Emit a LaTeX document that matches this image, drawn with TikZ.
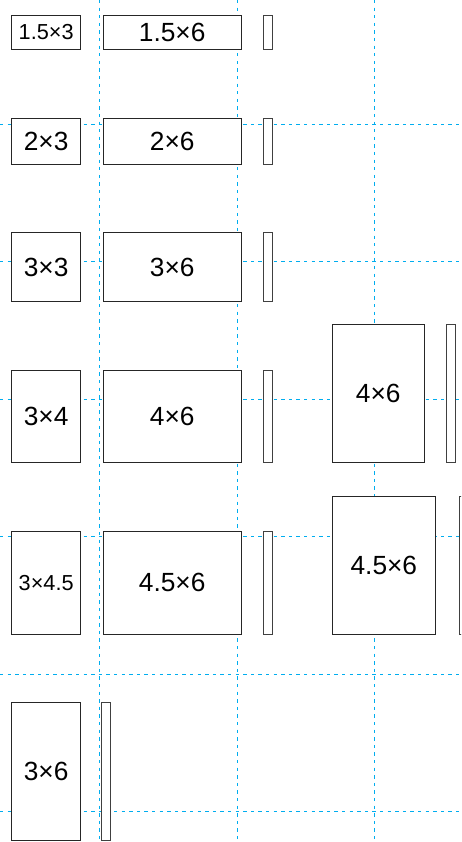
\documentclass[tikz,border=0pt]{standalone}
\usepackage{fontspec}
\setmainfont{Liberation Sans}
\tikzset{
  x=1pt, y=-1pt,
  gridline/.style={draw=cyan, line width=1pt, dash pattern=on 3.3pt off 4.3pt},
  photo/.style={draw=black!85, fill=white, line width=1pt, rectangle, inner sep=0pt, anchor=north west, font=\fontsize{26.3}{31}\selectfont},
  small/.style={font=\fontsize{21.7}{26}\selectfont},
  strip/.style={draw=black!75, fill=white, line width=1pt, rectangle, inner sep=0pt, anchor=north west, minimum width=9pt},
}
\begin{document}
\begin{tikzpicture}
\useasboundingbox (0,0) rectangle (461,842);
\clip (0,0) rectangle (461,842);
% grid
\foreach \gx [count=\i] in {99.5,237,374.5} {
  \coordinate (vt\i) at (\gx,0);
  \coordinate (vb\i) at (\gx,842);
  \draw[gridline] (vt\i) -- (vb\i);
}
\foreach \gy [count=\i] in {124.3,261.8,399.3,536.8,674.3,811.8} {
  \coordinate (hl\i) at (0,\gy);
  \coordinate (hr\i) at (461,\gy);
  \draw[gridline] (hl\i) -- (hr\i);
}
% row 1
\node[photo, small, minimum width=68.7pt, minimum height=34.3pt] (a1) at (11.3,14.7) {1.5×3};
\node[photo, minimum width=138pt, minimum height=34.3pt] (a2) at (102.7,14.7) {1.5×6};
\node[strip, minimum height=34.3pt] (a3) at (263.3,14.7) {};
% row 2
\node[photo, minimum width=68.7pt, minimum height=46pt] (b1) at (11.3,117.7) {2×3};
\node[photo, minimum width=138pt, minimum height=46pt] (b2) at (102.7,117.7) {2×6};
\node[strip, minimum height=46pt] (b3) at (262.7,117.7) {};
% row 3
\node[photo, minimum width=68.7pt, minimum height=68.7pt] (c1) at (11.3,232.3) {3×3};
\node[photo, minimum width=138pt, minimum height=68.7pt] (c2) at (102.7,232.3) {3×6};
\node[strip, minimum height=68.7pt] (c3) at (262.7,232.3) {};
% row 4
\node[photo, minimum width=68.7pt, minimum height=91.5pt] (d1) at (11.3,370) {3×4};
\node[photo, minimum width=138pt, minimum height=91.5pt] (d2) at (102.7,370) {4×6};
\node[strip, minimum height=91.5pt] (d3) at (262.7,370) {};
\node[photo, minimum width=92pt, minimum height=138pt] (d4) at (331.7,323.7) {4×6};
\node[strip, minimum height=138pt] (d5) at (446,323.7) {};
% row 5
\node[photo, small, minimum width=68.7pt, minimum height=102.8pt] (e1) at (11.3,530.7) {3×4.5};
\node[photo, minimum width=138pt, minimum height=102.8pt] (e2) at (102.7,530.7) {4.5×6};
\node[strip, minimum height=102.8pt] (e3) at (262.7,530.7) {};
\node[photo, minimum width=103.3pt, minimum height=137.5pt] (e4) at (331.7,496) {4.5×6};
\node[strip, minimum height=137.5pt] (e5) at (459.3,496) {};
% row 6
\node[photo, minimum width=68.7pt, minimum height=138.3pt] (f1) at (11.3,701.7) {3×6};
\node[strip, minimum height=138.3pt] (f2) at (100.7,701.7) {};
\end{tikzpicture}
\end{document}
